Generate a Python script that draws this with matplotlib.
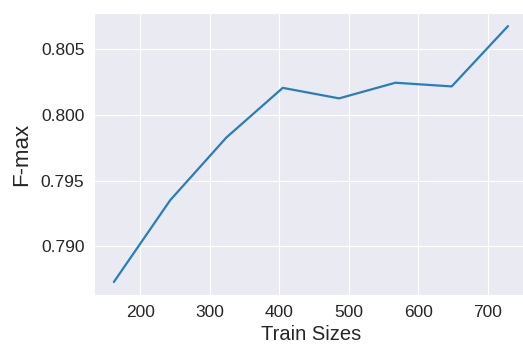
import matplotlib
matplotlib.use("Agg")
import matplotlib.pyplot as plt
import seaborn as sns

# train sizes and F-max scores
train_sizes = [162, 243, 324, 405, 486, 567, 648, 729]
f_max = [0.78728, 0.7935, 0.79828, 0.80205, 0.80125, 0.80244, 0.80216, 0.80675]

sns.set_style("darkgrid")
plt.rcParams['font.family'] = ['Liberation Sans', 'DejaVu Sans']

fig = plt.figure(figsize=(5.23, 3.45), dpi=100)
ax = fig.add_axes([0.180, 0.1455, 0.829, 0.816])

ax.plot(train_sizes, f_max, color='#2a7dbb', linewidth=1.6)

ax.set_xlabel('Train Sizes', fontsize=14.5, color='#262626', labelpad=4)
ax.set_ylabel('F-max', fontsize=16, color='#262626', labelpad=6)
ax.set_xticks([200, 300, 400, 500, 600, 700])
ax.set_yticks([0.790, 0.795, 0.800, 0.805])
ax.tick_params(labelsize=12.5, colors='#262626')

fig.savefig('out.png', dpi=100)
